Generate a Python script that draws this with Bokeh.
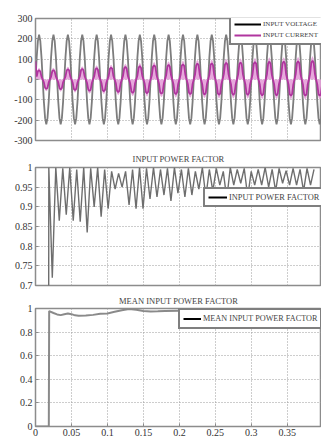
from bokeh.plotting import figure
from bokeh.layouts import column
from bokeh.models import FixedTicker, Legend, LegendItem, Range1d
from bokeh.embed import file_html
from bokeh.resources import INLINE

# ---------------- data ----------------
SAMPLE_STEP = 1.0 / 600.0          # 12 samples per 50 Hz cycle

INPUT_VOLTAGE = [
    0, 110, 190, 220, 190, 110, 0, -110, -190, -220, -190, -110,
    0, 110, 190, 220, 190, 110, 0, -110, -190, -220, -190, -110,
    0, 110, 190, 220, 190, 110, 0, -110, -190, -220, -190, -110,
    0, 110, 190, 220, 190, 110, 0, -110, -190, -220, -190, -110,
    0, 110, 190, 220, 190, 110, 0, -110, -190, -220, -190, -110,
    0, 110, 190, 220, 190, 110, 0, -110, -190, -220, -190, -110,
    0, 110, 190, 220, 190, 110, 0, -110, -190, -220, -190, -110,
    0, 110, 190, 220, 190, 110, 0, -110, -190, -220, -190, -110,
    0, 110, 190, 220, 190, 110, 0, -110, -190, -220, -190, -110,
    0, 110, 190, 220, 190, 110, 0, -110, -190, -220, -190, -110,
    0, 110, 190, 220, 190, 110, 0, -110, -190, -220, -190, -110,
    0, 110, 190, 220, 190, 110, 0, -110, -190, -220, -190, -110,
    0, 110, 190, 220, 190, 110, 0, -110, -190, -220, -190, -110,
    0, 110, 190, 220, 190, 110, 0, -110, -190, -220, -190, -110,
    0, 110, 190, 220, 190, 110, 0, -110, -190, -220, -190, -110,
    0, 110, 190, 220, 190, 110, 0, -110, -190, -220, -190, -110,
    0, 110, 190, 220, 190, 110, 0, -110, -190, -220, -190, -110,
    0, 110, 190, 220, 190, 110, 0, -110, -190, -220, -190, -110,
    0, 110, 190, 220, 190, 110, 0, -110, -190, -220, -190, -110,
    0, 110, 190, 220, 190, 110, 0, -110, -190, -220, -190, -110,
    0,
]

INPUT_CURRENT = [
    90, 14, 41, 45, 40, 14, 0, -14, -41, -46, -42, -14,
    0, 14, 42, 46, 40, 15, 0, -14, -43, -48, -42, -14,
    0, 15, 45, 50, 46, 15, 0, -16, -47, -52, -46, -16,
    0, 16, 47, 52, 46, 16, 0, -17, -50, -56, -51, -17,
    0, 17, 50, 56, 49, 17, 0, -17, -52, -58, -51, -17,
    0, 17, 52, 58, 53, 17, 0, -19, -56, -62, -55, -19,
    0, 19, 56, 62, 55, 19, 0, -20, -59, -66, -60, -20,
    0, 20, 59, 66, 58, 20, 0, -20, -61, -68, -60, -20,
    0, 21, 63, 70, 62, 21, 0, -21, -63, -70, -64, -21,
    0, 22, 65, 72, 64, 22, 0, -22, -65, -72, -64, -22,
    0, 23, 68, 75, 67, 23, 0, -22, -65, -72, -66, -22,
    0, 23, 70, 78, 71, 23, 0, -22, -67, -74, -66, -22,
    0, 24, 72, 80, 71, 24, 0, -23, -68, -75, -69, -23,
    0, 25, 74, 82, 75, 25, 0, -23, -68, -76, -68, -23,
    0, 25, 76, 84, 75, 25, 0, -23, -69, -76, -68, -23,
    0, 26, 77, 86, 78, 26, 0, -23, -70, -78, -71, -23,
    0, 26, 79, 88, 78, 26, 0, -23, -70, -78, -70, -23,
    0, 26, 79, 88, 80, 26, 0, -24, -72, -80, -71, -24,
    0, 27, 81, 90, 80, 27, 0, -24, -72, -80, -73, -24,
    0, 28, 83, 92, 82, 28, 0, -24, -72, -80, -71, -24,
    0,
]

PF_START_T = [0.0, 0.018]
PF_START_V = [0.0, 0.0]
PF_STEP = 0.00485
PF_FIRST = 0.0185
PF_PEAKS = [1.0, 1.0, 0.998, 1.0, 0.995, 1.0, 0.998, 1.0, 0.995, 0.99,
            0.985, 0.99, 0.995, 1.0, 0.998, 1.0, 0.995, 0.998, 1.0, 0.995,
            0.998, 0.99, 1.0, 0.995, 0.998, 0.99, 1.0, 0.995, 0.998, 0.99,
            0.995, 1.0, 0.995, 0.998, 0.992, 0.998, 0.995, 0.998, 0.995]
PF_MINS = [0.72, 0.865, 0.88, 0.865, 0.862, 0.835, 0.90, 0.875, 0.895, 0.945,
           0.95, 0.905, 0.895, 0.895, 0.92, 0.925, 0.93, 0.915, 0.935, 0.925,
           0.93, 0.945, 0.925, 0.94, 0.955, 0.92, 0.955, 0.96, 0.925, 0.955,
           0.955, 0.95, 0.94, 0.96, 0.955, 0.955, 0.94, 0.955]

MEAN_T = [0.0, 0.0185, 0.019, 0.025, 0.03, 0.035, 0.04, 0.045, 0.05, 0.055,
          0.06, 0.07, 0.08, 0.09, 0.1, 0.11, 0.12, 0.13, 0.14, 0.15, 0.16,
          0.17, 0.18, 0.2, 0.22, 0.25, 0.28, 0.3, 0.33, 0.35, 0.38, 0.4]
MEAN_V = [0.0, 0.0, 0.978, 0.962, 0.95, 0.944, 0.952, 0.958, 0.952, 0.942,
          0.939, 0.94, 0.946, 0.955, 0.958, 0.972, 0.985, 0.995, 0.99, 0.978,
          0.975, 0.976, 0.978, 0.98, 0.982, 0.985, 0.987, 0.99, 0.992, 0.995,
          0.995, 0.995]

X_TICKS = [0, 0.05, 0.1, 0.15, 0.2, 0.25, 0.3, 0.35]
X_LABELS = ["0", "0.05", "0.1", "0.15", "0.2", "0.25", "0.3", "0.35"]
Y1_TICKS = [-300, -200, -100, 0, 100, 200, 300]
Y1_LABELS = ["-300", "-200", "-100", "0", "100", "200", "300"]
Y2_TICKS = [0.7, 0.75, 0.8, 0.85, 0.9, 0.95, 1.0]
Y2_LABELS = ["0.7", "0.75", "0.8", "0.85", "0.9", "0.95", "1"]
Y3_TICKS = [0, 0.2, 0.4, 0.6, 0.8, 1.0]
Y3_LABELS = ["0", "0.2", "0.4", "0.6", "0.8", "1"]

# ---------------- derived sequences ----------------
t_wave = [i * SAMPLE_STEP for i in range(len(INPUT_VOLTAGE))]
pf_t = list(PF_START_T)
pf_v = list(PF_START_V)
for i in range(len(PF_PEAKS) + len(PF_MINS)):
    pf_t.append(PF_FIRST + PF_STEP * i)
    pf_v.append(PF_PEAKS[i // 2] if i % 2 == 0 else PF_MINS[i // 2])
cur_band = [c * 1.25 for c in INPUT_CURRENT]
NAN = [float("nan")]

SERIF = "Liberation Serif"
FIG_W = 321
X_END = 0.3975


def panel(height, top, bottom, yr, yticks, ylabels, title=None, show_x=False, standoff=5):
    p = figure(width=FIG_W, height=height,
               x_range=Range1d(0, X_END), y_range=Range1d(*yr),
               output_backend="svg", toolbar_location=None,
               min_border_left=35, min_border_right=0,
               min_border_top=top, min_border_bottom=bottom,
               background_fill_color="white", border_fill_color="white")
    p.outline_line_color = "#8c8c8c"
    p.outline_line_width = 1.5
    p.yaxis.ticker = FixedTicker(ticks=yticks)
    p.yaxis.major_label_overrides = {k: v for k, v in zip(yticks, ylabels)}
    p.xaxis.ticker = FixedTicker(ticks=X_TICKS)
    p.xaxis.major_label_overrides = {k: v for k, v in zip(X_TICKS, X_LABELS)}
    for ax in (p.xaxis[0], p.yaxis[0]):
        ax.axis_line_color = None
        ax.major_tick_in = 3
        ax.major_tick_out = 0
        ax.major_tick_line_color = "#8c8c8c"
        ax.minor_tick_line_color = None
        ax.major_label_text_font = SERIF
        ax.major_label_text_font_size = "10px"
        ax.major_label_text_color = "#333333"
        ax.major_label_standoff = 3
    p.xaxis.major_label_standoff = 2
    p.xaxis.visible = show_x
    p.xgrid.ticker = FixedTicker(ticks=X_TICKS)
    p.ygrid.ticker = FixedTicker(ticks=yticks)
    for g in (p.xgrid[0], p.ygrid[0]):
        g.grid_line_color = "#9a9a9a"
        g.grid_line_dash = "1 2"
        g.grid_line_width = 1
    if title:
        p.title.text = title
        p.title.align = "center"
        p.title.text_font = SERIF
        p.title.text_font_size = "8.5px"
        p.title.text_font_style = "normal"
        p.title.text_color = "#444444"
        p.title.standoff = standoff
    return p


def add_legend(p, items, loc, font_size, glyph_w, label_h, pad, spacing):
    lg = Legend(items=items, location=loc, border_line_color="black",
                border_line_width=2, background_fill_color="white",
                background_fill_alpha=1, label_text_font=SERIF,
                label_text_font_size=font_size, glyph_width=glyph_w,
                glyph_height=label_h, label_height=label_h, label_standoff=2,
                padding=pad, spacing=spacing, margin=0)
    p.add_layout(lg)


# ---- panel 1: voltage & current ----
p1 = panel(147, 18, 7, (-300, 300), Y1_TICKS, Y1_LABELS)
p1.line(t_wave, INPUT_VOLTAGE, line_color="#7d7d7d", line_width=1.8)
p1.varea(x=t_wave, y1=[0] * len(t_wave), y2=cur_band, fill_color="#e4a0d8", fill_alpha=0.9)
p1.line(t_wave, INPUT_CURRENT, line_color="#b0359f", line_width=1.8)
lv = p1.line(NAN, NAN, line_color="black", line_width=2)
lc = p1.line(NAN, NAN, line_color="#b0359f", line_width=2)
add_legend(p1, [LegendItem(label="INPUT VOLTAGE", renderers=[lv]),
                LegendItem(label="INPUT CURRENT", renderers=[lc])],
           (194, 95), "7px", 27, 10, 3, 1)

# ---- panel 2: input power factor ----
p2 = panel(143, 16, 5, (0.7, 1.0), Y2_TICKS, Y2_LABELS, title="INPUT POWER FACTOR", standoff=8)
p2.line(pf_t, pf_v, line_color="#6e6e6e", line_width=1.4)
lp = p2.line(NAN, NAN, line_color="black", line_width=2)
add_legend(p2, [LegendItem(label="INPUT POWER FACTOR", renderers=[lp])],
           (168, 78), "8.4px", 19, 10, 3, 0)

# ---- panel 3: mean input power factor ----
p3 = panel(149, 16, 13, (0, 1.0), Y3_TICKS, Y3_LABELS, title="MEAN INPUT POWER FACTOR",
           show_x=True, standoff=6)
p3.line(MEAN_T, MEAN_V, line_color="#8a8a8a", line_width=2)
lm = p3.line(NAN, NAN, line_color="black", line_width=2)
add_legend(p3, [LegendItem(label="MEAN INPUT POWER FACTOR", renderers=[lm])],
           (143, 97), "8.2px", 18, 11, 3, 0)

layout = column(p1, p2, p3, spacing=0)
open("out.html", "w").write(file_html(layout, INLINE))
